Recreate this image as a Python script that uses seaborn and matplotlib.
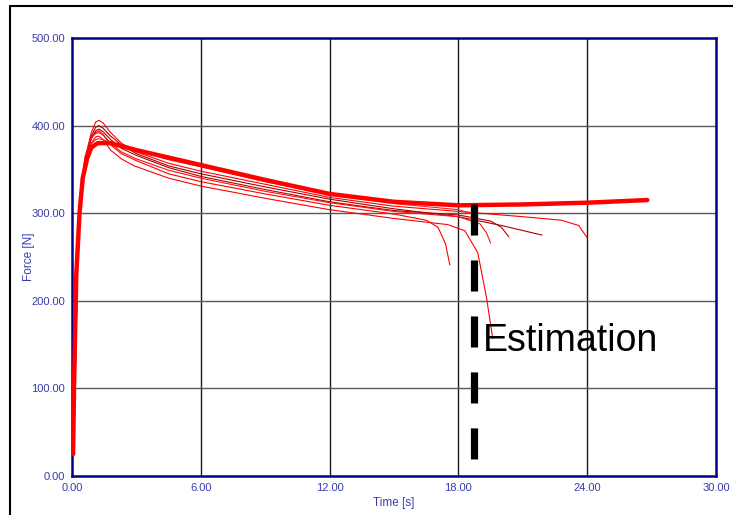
import numpy as np
import pandas as pd
import matplotlib
matplotlib.use("Agg")
import matplotlib.pyplot as plt
from matplotlib.lines import Line2D
import seaborn as sns

# ---- data ----
rise_t = [0.05, 0.15, 0.25, 0.4, 0.6, 0.9, 1.1, 1.25, 1.45]

c1_t = rise_t + [1.8, 2.3, 3, 4.5, 6, 9, 12, 15, 18, 21, 22.8, 23.6, 24.0]
c1_f = [28, 120, 240, 322, 362, 392, 404, 406, 403, 392, 380, 370, 357, 348, 333, 318, 308, 302, 296, 292, 286, 272]

c2_t = rise_t + [1.8, 2.3, 3, 4.5, 6, 9, 12, 15, 18, 20, 21.9]
c2_f = [30, 115, 235, 318, 360, 388, 398, 400, 397, 388, 378, 368, 354, 345, 330, 316, 305, 296, 286, 275]

c3_t = rise_t + [1.8, 2.3, 3, 4.5, 6, 9, 12, 15, 18, 19.5, 20.0, 20.35]
c3_f = [26, 110, 232, 316, 358, 385, 394, 396, 393, 384, 374, 366, 352, 342, 327, 313, 303, 298, 291, 284, 273]

c4_t = rise_t + [1.8, 2.3, 3, 4.5, 6, 9, 12, 15, 18, 19.0, 19.3, 19.5]
c4_f = [32, 125, 245, 324, 364, 386, 391, 392, 389, 380, 370, 362, 349, 340, 325, 312, 302, 296, 288, 278, 266]

c5_t = rise_t + [1.8, 2.3, 2.9, 4.5, 6, 9, 12, 15, 17.5, 18.3, 18.9, 19.3, 19.6]
c5_f = [24, 105, 228, 312, 355, 380, 387, 388, 384, 372, 362, 354, 340, 331, 317, 304, 294, 287, 280, 255, 205, 157]

c6_t = rise_t + [1.8, 2.3, 3, 4.5, 6, 9, 12, 15, 16.5, 17.05, 17.4, 17.6]
c6_f = [30, 118, 238, 320, 360, 386, 392, 394, 390, 378, 368, 360, 345, 336, 322, 309, 299, 292, 284, 265, 241]

c7_t = rise_t + [1.8, 2.3, 3, 4.5, 6, 9, 12, 15, 18, 18.6]
c7_f = [27, 112, 236, 318, 358, 379, 384, 385, 384, 380, 376, 372, 361, 353, 336, 321, 311, 304, 300]

thick_t = [0.05, 0.1, 0.2, 0.35, 0.5, 0.7, 0.9, 1.2, 1.8, 3, 6, 9, 12, 15, 18, 21, 24, 26.8]
thick_f = [25, 110, 230, 300, 340, 362, 375, 380, 380, 372, 355, 338, 322, 313, 309, 310, 312, 315]

curves = {
    "c1": (c1_t, c1_f), "c2": (c2_t, c2_f), "c3": (c3_t, c3_f),
    "c4": (c4_t, c4_f), "c5": (c5_t, c5_f), "c6": (c6_t, c6_f),
    "c7": (c7_t, c7_f), "thick": (thick_t, thick_f),
}

est_t = [18.75, 18.75]
est_f = [310.5, 18]

x_ticks = [0, 6, 12, 18, 24, 30]
y_ticks = [0, 100, 200, 300, 400, 500]

# ---- build table ----
rows = []
for name, (ts, fs) in curves.items():
    for i, (t, f) in enumerate(zip(ts, fs)):
        rows.append({"curve": name, "order": i, "t": t, "F": f})
df = pd.DataFrame(rows)

palette = {"c1": "#ff0000", "c2": "#a80000", "c3": "#b00000", "c4": "#ff1010",
           "c5": "#ff0000", "c6": "#ff0000", "c7": "#ff2020", "thick": "#ff0000"}
sizes = {k: 0.8 for k in curves}
sizes["thick"] = 3.2

sns.set_style("white")
plt.rcParams["font.family"] = ["Liberation Sans", "DejaVu Sans"]

fig = plt.figure(figsize=(7.33, 5.15), dpi=100)
ax = fig.add_axes([72/733, 1-476/515, (716-72)/733, (476-38)/515])

sns.lineplot(data=df, x="t", y="F", hue="curve", size="curve", palette=palette,
             sizes=sizes, estimator=None, sort=False, units="curve",
             legend=False, ax=ax, zorder=3)

ax.plot(est_t, est_f, color="black", lw=5.2, dashes=(4.3, 3.45), zorder=4,
        solid_capstyle="butt", dash_capstyle="butt")
ax.text(19.15, 154, "Estimation", fontsize=27, color="black",
        va="center", ha="left", zorder=5)

ax.set_xlim(0, 30)
ax.set_ylim(0, 500)
ax.set_xticks(x_ticks)
ax.set_yticks(y_ticks)
ax.set_xticklabels([f"{v:.2f}" for v in x_ticks])
ax.set_yticklabels([f"{v:.2f}" for v in y_ticks])
lab_col = "#3a3ab0"
ax.tick_params(axis="both", length=0, labelsize=8, labelcolor=lab_col)
ax.tick_params(axis="x", pad=5)
ax.tick_params(axis="y", pad=5)

for v in x_ticks[1:-1]:
    ax.axvline(v, color="#1a1a1a", lw=1.0, zorder=1)
for v in y_ticks[1:-1]:
    ax.axhline(v, color="#5a5a5a", lw=1.0, zorder=1)

for s in ax.spines.values():
    s.set_color("#00008b")
    s.set_linewidth(1.8)

ax.set_xlabel("Time [s]", fontsize=8.5, color=lab_col)
ax.set_ylabel("Force [N]", fontsize=8.5, color=lab_col, va="center")
ax.xaxis.set_label_coords(0.5, -(503 - 476) / 438)
ax.yaxis.set_label_coords(-(72 - 29) / 644, 0.5)
ax.xaxis.label.set_va("center")

# outer frame lines
fig.add_artist(Line2D([10/733, 1.0], [1-6/515, 1-6/515], color="black", lw=1.5,
                      transform=fig.transFigure))
fig.add_artist(Line2D([10/733, 10/733], [0, 1-6/515], color="black", lw=1.5,
                      transform=fig.transFigure))

fig.savefig("out.png", dpi=100)
